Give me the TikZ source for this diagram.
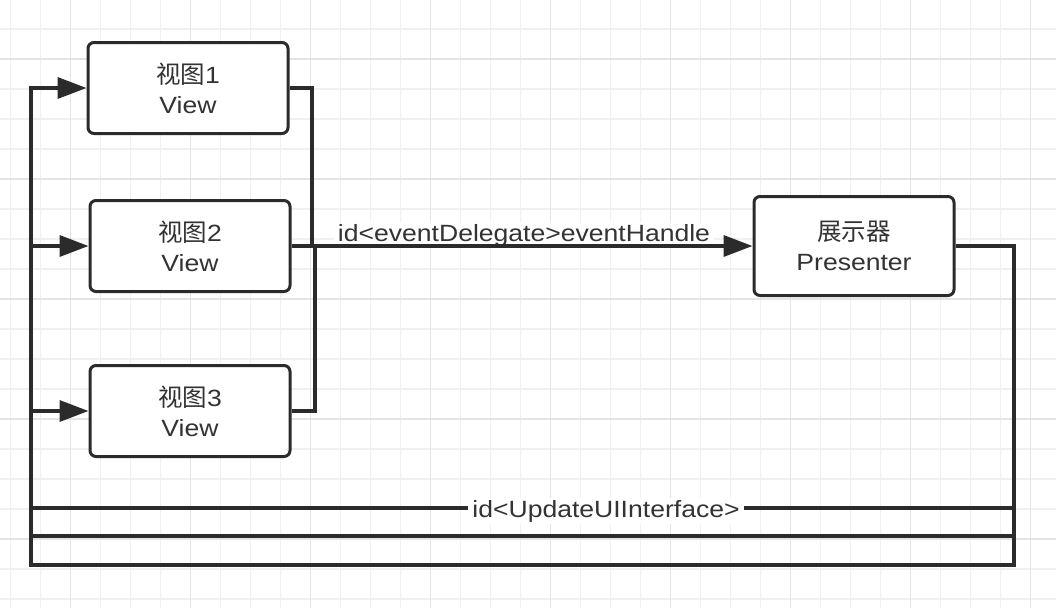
\documentclass[tikz,border=0pt]{standalone}
\usepackage{fontspec}
\setmainfont{Liberation Sans}[FakeStretch=1.13]
\newfontfamily\cjk{Noto Sans CJK SC}
\usetikzlibrary{arrows.meta}
\definecolor{linec}{HTML}{2B2B2B}
\definecolor{textc}{HTML}{333333}
\definecolor{gridminor}{HTML}{F0F0F0}
\definecolor{gridmajor}{HTML}{E4E4E4}
\tikzset{
  box/.style={draw=linec, line width=3pt, rounded corners=6pt, fill=white,
    minimum width=200pt, minimum height=91pt, inner sep=0pt, align=center,
    text=textc, font=\fontsize{23.5}{30}\selectfont},
  conn/.style={draw=linec, line width=3.5pt},
  arr/.style={-{Triangle[length=29pt,width=21pt]}},
  lbl/.style={fill=white, text=textc, inner xsep=4pt, inner ysep=2pt,
    font=\fontsize{23.5}{28}\selectfont},
  gmin/.style={draw=gridminor, line width=1.5pt},
  gmaj/.style={draw=gridmajor, line width=1.5pt}
}
\newcommand{\zh}[1]{{\cjk\fontsize{24.5}{30}\selectfont #1}}
\begin{document}
\begin{tikzpicture}[x=1pt,y=-1pt]
\useasboundingbox (0,0) rectangle (1056,608);
\fill[white] (0,0) rectangle (1056,608);
% grid
\foreach \i in {0,...,35} {\draw[gmin] ({10.7+30*\i},0) -- ({10.7+30*\i},608);}
\foreach \i in {0,...,20} {\draw[gmin] (0,{-1+30*\i}) -- (1056,{-1+30*\i});}
\foreach \i in {0,...,8} {\draw[gmaj] ({70.7+120*\i},0) -- ({70.7+120*\i},608);}
\foreach \i in {0,...,4} {\draw[gmaj] (0,{59+120*\i}) -- (1056,{59+120*\i});}

% nodes
\node[box] (v1) at (188,88) {\zh{视图}1\\View};
\node[box] (v2) at (190,246) {\zh{视图}2\\View};
\node[box] (v3) at (190,411) {\zh{视图}3\\View};
\node[box, minimum height=99pt] (p) at (854,246) {\zh{展示器}\\Presenter};

% junction and routing coordinates
\coordinate (ja) at (312,246);
\coordinate (jb) at (315,246);
\coordinate (r1) at (1014,565);
\coordinate (r2) at (1014,536);
\coordinate (r3) at (1014,508);
\coordinate (l1) at (31,565);
\coordinate (l2) at (31,536);
\coordinate (l3) at (31,508);

% views -> presenter
\node[lbl, anchor=base] (ev) at (524,241) {id<eventDelegate>eventHandle};
\draw[conn] (v1.east) -| (ja);
\draw[conn] (v3.east) -| (jb);
\draw[conn, arr] (v2.east) -- (p.west);

% presenter -> views
\draw[conn, arr] (p.east) -| (r1) -- (l1) |- (v1.west);
\draw[conn, arr] (p.east) -| (r2) -- (l2) |- (v2.west);
\draw[conn, arr] (p.east) -| (r3) -- (l3) |- (v3.west);
\node[lbl] (up) at (606,511) {id<UpdateUIInterface>};
\end{tikzpicture}
\end{document}
